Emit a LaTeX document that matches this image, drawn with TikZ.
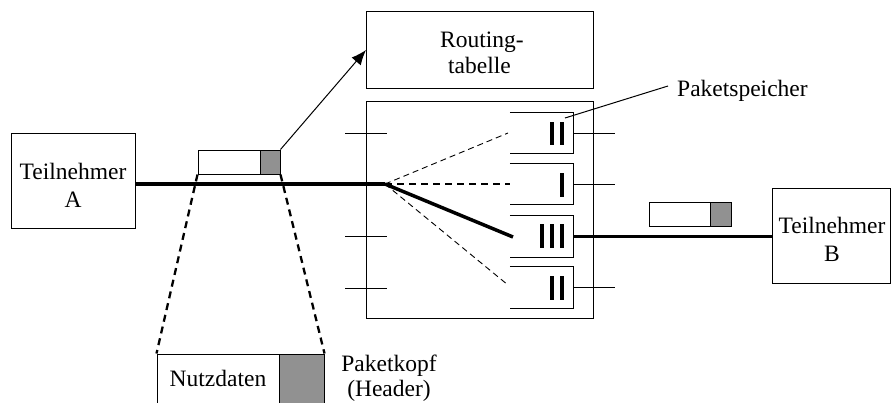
\documentclass[tikz,border=0pt]{standalone}
\usepackage{fontspec}
\setmainfont{Liberation Serif}
\usetikzlibrary{arrows.meta}
\definecolor{hdr}{RGB}{145,145,145}
\tikzset{
  box/.style={draw, line width=1pt, inner sep=0pt},
  lbl/.style={inner sep=0pt, font=\fontsize{23.5}{27}\selectfont},
  thin/.style={line width=1pt},
  thick line/.style={line width=3.5pt},
  thin dash/.style={line width=0.9pt, dash pattern=on 6pt off 4pt},
  thick dash/.style={line width=2.3pt, dash pattern=on 7pt off 5pt},
  bar/.style={line width=4pt},
  bufbox/.style={inner sep=0pt, minimum width=63pt, minimum height=41pt},
  pktd/.style={draw, line width=1pt, fill=white},
  pkth/.style={draw, line width=1pt, fill=hdr}
}
\begin{document}
\begin{tikzpicture}[x=1pt, y=-1pt]
\useasboundingbox (0,0) rectangle (892,402);
\clip (0,0) rectangle (892,402);

% main boxes
\node[box, minimum width=124pt, minimum height=95pt] (tA) at (73,180.5) {};
\node[lbl, anchor=base] (tA1) at (73,179) {Teilnehmer};
\node[lbl, anchor=base] (tA2) at (73,207) {A};

\node[box, minimum width=227pt, minimum height=77pt] (rt) at (479.5,49.5) {};
\node[lbl, anchor=base] (rt1) at (482,47) {Routing-};
\node[lbl, anchor=base] (rt2) at (479.5,73) {tabelle};

\node[box, minimum width=227pt, minimum height=217pt] (sw) at (479.5,209.5) {};

\node[box, minimum width=118pt, minimum height=95pt] (tB) at (831.5,235.5) {};
\node[lbl, anchor=base] (tB1) at (832,233) {Teilnehmer};
\node[lbl, anchor=base] (tB2) at (832,261) {B};

% buffers
\foreach \n/\y in {1/133, 2/184, 3/236.5, 4/287.5}{
  \node[bufbox] (buf\n) at (541.5,\y) {};
  \draw[thin] (buf\n.north west) -- (buf\n.north east) -- (buf\n.south east) -- (buf\n.south west);
}
% bars
\draw[bar] (552,122) -- (552,145) (562,122) -- (562,145);
\draw[bar] (562,173) -- (562,197);
\draw[bar] (542,224) -- (542,248) (552,224) -- (552,248) (562,224) -- (562,248);
\draw[bar] (552,276) -- (552,300) (562,276) -- (562,300);

% right ticks
\coordinate (rx) at (615,0);
\draw[thin] (buf1.east) -- (buf1.east -| rx);
\draw[thin] (buf2.east) -- (buf2.east -| rx);
\draw[thin] (buf4.east) -- (buf4.east -| rx);
% left ticks
\draw[thin] (345,133) -- (387,133);
\draw[thin] (345,236) -- (387,236);
\draw[thin] (345,288) -- (387,288);

% fan
\coordinate (fan) at (385,184);
\coordinate (e1) at (508,133);
\coordinate (e2) at (510,184);
\coordinate (e3) at (513,237);
\coordinate (e4) at (508,285);
\draw[thick line] (tA.east |- fan) -- (fan);
\draw[thin dash] (fan) -- (e1);
\draw[thick dash] (fan) -- (e2);
\draw[thick line] (fan) -- (e3);
\draw[thin dash] (fan) -- (e4);
\draw[thick line] (buf3.east) -- (tB.west |- buf3.east);

% packet 1
\node[pktd, minimum width=62pt, minimum height=24pt, inner sep=0pt] (p1d) at (229,162) {};
\node[pkth, minimum width=20pt, minimum height=24pt, inner sep=0pt] (p1h) at (270,162) {};
\coordinate (rtin) at (366,50);
\draw[thin, -{Latex[length=15pt,width=12pt]}] (p1h.north east) -- (rtin);

% packet 2
\node[pktd, minimum width=61pt, minimum height=24pt, inner sep=0pt] (p2d) at (679.5,214) {};
\node[pkth, minimum width=21pt, minimum height=24pt, inner sep=0pt] (p2h) at (720.5,214) {};

% big packet
\node[pktd, minimum width=122pt, minimum height=70pt, inner sep=0pt] (bd) at (218,389) {};
\node[pkth, minimum width=45pt, minimum height=70pt, inner sep=0pt] (bh) at (301.5,389) {};
\node[lbl, anchor=base] (nd) at (218,386) {Nutzdaten};
\node[lbl, anchor=base] (pk1) at (389,371) {Paketkopf};
\node[lbl, anchor=base] (pk2) at (389,396) {(Header)};
\draw[thick dash] (p1d.south west) -- (bd.north west);
\draw[thick dash] (p1h.south east) -- (bh.north east);

% Paketspeicher
\node[lbl, anchor=base west] (ps) at (677,96) {Paketspeicher};
\coordinate (psin) at (565,118);
\draw[thin] (psin) -- (668,86);
\end{tikzpicture}
\end{document}
